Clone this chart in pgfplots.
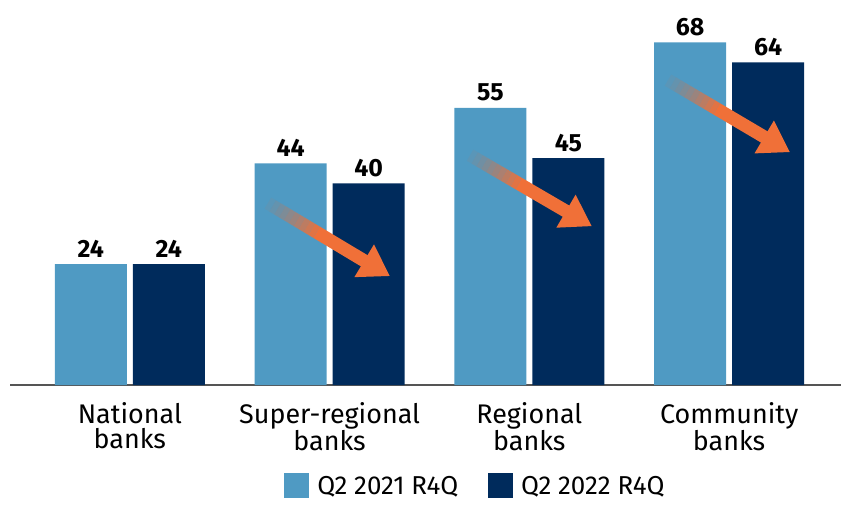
\documentclass[border=0pt]{standalone}
\usepackage{pgfplots}
\pgfplotsset{compat=1.18}
\usepackage{fontspec}
\setmainfont{Fira Sans}
\usetikzlibrary{arrows.meta,calc}
\definecolor{lblue}{HTML}{4F9AC3}
\definecolor{dblue}{HTML}{002B5C}
\definecolor{orng}{HTML}{F07038}
\definecolor{axgray}{HTML}{555555}
\begin{document}
\begin{tikzpicture}
\path[use as bounding box] (-10bp,-120bp) rectangle (831bp,385bp);
\begin{axis}[
  at={(0,0)}, anchor=south west,
  scale only axis, width=831bp, height=385bp,
  xmin=-0.6, xmax=3.56, ymin=0, ymax=76.4,
  axis x line*=bottom, axis y line=none,
  x axis line style={axgray, line width=1.2bp, -},
  xtick={0,1,2,3},
  xticklabels={{National\\banks},{Super-regional\\banks},{Regional\\banks},{Community\\banks}},
  xticklabel style={align=center, font=\fontsize{27}{25}\selectfont, yshift=-14bp},
  major tick length=0pt,
  ytick=\empty,
  ybar=6bp, bar width=72bp,
  /pgf/number format/assume math mode=true,
  nodes near coords,
  nodes near coords style={font=\bfseries\fontsize{25}{25}\selectfont, anchor=south, yshift=3bp, black},
  legend columns=2,
  legend style={at={(0.56,-0.262)}, anchor=center, draw=none, font=\fontsize{26}{26}\selectfont,
    /tikz/every odd column/.append style={column sep=6bp},
    /tikz/every even column/.append style={column sep=28bp}},
  legend image code/.code={\fill[#1, draw=none] (0bp,-12.5bp) rectangle (25bp,12.5bp);},
]
\addplot[fill=lblue, draw=none] coordinates {(0,24) (1,44) (2,55) (3,68)};
\addplot[fill=dblue, draw=none] coordinates {(0,24) (1,40) (2,45) (3,64)};
\legend{Q2 2021 R4Q, Q2 2022 R4Q}
\coordinate (s1) at (axis cs:0.691,36.1);
\coordinate (e1) at (axis cs:1.302,21.6);
\coordinate (s2) at (axis cs:1.703,45.6);
\coordinate (e2) at (axis cs:2.313,31.5);
\coordinate (s3) at (axis cs:2.694,60.5);
\coordinate (e3) at (axis cs:3.305,46.2);
\end{axis}
\foreach \i in {1,2,3}{
  \foreach \k in {0,...,9}{
    \pgfmathsetmacro{\ta}{\k*0.04}
    \pgfmathsetmacro{\tb}{(\k+1)*0.04}
    \pgfmathsetmacro{\op}{0.1+0.09*\k}
    \pgfmathsetmacro{\mix}{55+5*\k}
    \draw[line width=13bp, line cap=butt, draw=orng!\mix!gray, opacity=\op]
      ($(s\i)!\ta!(e\i)$) -- ($(s\i)!\tb!(e\i)$);
  }
  \draw[line width=13bp, line cap=butt, orng, -{Triangle[length=30bp,width=36bp]}]
    ($(s\i)!0.4!(e\i)$) -- (e\i);
}
\end{tikzpicture}
\end{document}
